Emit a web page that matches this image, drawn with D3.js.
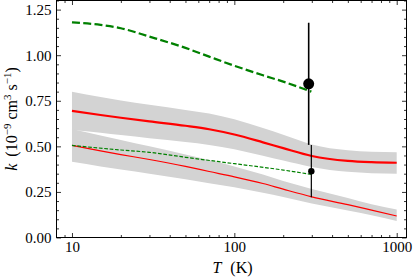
<!DOCTYPE html>
<html>
<head>
<meta charset="utf-8">
<script src="https://cdn.jsdelivr.net/npm/d3@7"></script>
<style>
  body { margin: 0; background: #fff; }
  svg { display: block; }
  text { font-family: "Liberation Serif", "DejaVu Serif", serif; fill: #000; }
</style>
</head>
<body>
<svg id="chart"></svg>
<script>
// temperature grid of the model curves (K)
const tempModel = [10, 15, 20, 30, 50, 70, 100, 150, 200, 300, 500, 700, 1000];
// thick red: total rate coefficient and its grey band
const kTotal   = [0.695, 0.672, 0.657, 0.637, 0.613, 0.594, 0.565, 0.522, 0.490, 0.447, 0.420, 0.413, 0.410];
const kTotalHi = [0.800, 0.770, 0.752, 0.728, 0.700, 0.680, 0.648, 0.600, 0.563, 0.510, 0.478, 0.470, 0.467];
const kTotalLo = [0.590, 0.575, 0.562, 0.545, 0.524, 0.508, 0.484, 0.448, 0.422, 0.387, 0.360, 0.353, 0.350];
// thin red: partial channel and its grey band
const kPart    = [0.505, 0.475, 0.455, 0.428, 0.390, 0.362, 0.333, 0.296, 0.265, 0.223, 0.180, 0.150, 0.118];
const kPartHi  = [0.595, 0.560, 0.535, 0.500, 0.455, 0.425, 0.390, 0.345, 0.310, 0.266, 0.216, 0.182, 0.153];
const kPartLo  = [0.415, 0.390, 0.373, 0.350, 0.320, 0.298, 0.276, 0.245, 0.222, 0.186, 0.148, 0.122, 0.091];

// green dashed curves
const tempGreen      = [10, 15, 20, 30, 50, 70, 100, 150, 200, 298];
const kGreenTotal    = [1.180, 1.166, 1.148, 1.102, 1.040, 0.992, 0.942, 0.890, 0.855, 0.800];
const tempGreenThin  = [10, 20, 30, 50, 100, 200, 298];
const kGreenPart     = [0.505, 0.480, 0.467, 0.440, 0.405, 0.370, 0.346];

// measurements
const expTemp = [287, 298];
const expK    = [0.843, 0.364];
const expErr  = [0.335, 0.143];

// ticks
const yMajor = [0, 0.25, 0.5, 0.75, 1.0, 1.25];
const xMajor = [10, 100, 1000];

const WIDTH = 415;
const HEIGHT = 277;
const LEFT = 56.5, RIGHT = 406.5, TOP = 0.5, BOTTOM = 237.5;

const svg = d3.select("#chart").attr("width", WIDTH).attr("height", HEIGHT);

const x = d3.scaleLog().domain([8.03, 1149]).range([LEFT, RIGHT]);
const y = d3.scaleLinear().domain([0, 1.3]).range([BOTTOM, TOP]);

const zip = (ts, ks) => ts.map((t, i) => ({ t: t, k: ks[i] }));

const line = d3.line().x(d => x(d.t)).y(d => y(d.k)).curve(d3.curveMonotoneX);
const band = d3.area()
  .x(d => x(d.t))
  .y0(d => y(d.lo))
  .y1(d => y(d.hi))
  .curve(d3.curveMonotoneX);

const plot = svg.append("g");

// grey bands
[[kTotalHi, kTotalLo], [kPartHi, kPartLo]].forEach(([hi, lo]) => {
  plot.append("path")
    .datum(tempModel.map((t, i) => ({ t: t, hi: hi[i], lo: lo[i] })))
    .attr("d", band)
    .attr("fill", "#d3d3d3");
});

// red model curves
plot.append("path").datum(zip(tempModel, kTotal)).attr("d", line)
  .attr("fill", "none").attr("stroke", "#ff0000").attr("stroke-width", 2.2);
plot.append("path").datum(zip(tempModel, kPart)).attr("d", line)
  .attr("fill", "none").attr("stroke", "#ff0000").attr("stroke-width", 1.2);

// green dashed curves
plot.append("path").datum(zip(tempGreen, kGreenTotal)).attr("d", line)
  .attr("fill", "none").attr("stroke", "#008000").attr("stroke-width", 2.2)
  .attr("stroke-dasharray", "8,3.3");
plot.append("path").datum(zip(tempGreenThin, kGreenPart)).attr("d", line)
  .attr("fill", "none").attr("stroke", "#008000").attr("stroke-width", 1.2)
  .attr("stroke-dasharray", "3.7,1.7");

// error bars and points
const expData = expTemp.map((t, i) => ({ t: t, k: expK[i], e: expErr[i] }));
const barWidths = [1.6, 1.2];
const dotRadius = [5.5, 3.2];
plot.selectAll("line.err").data(expData).enter().append("line")
  .attr("class", "err")
  .attr("x1", d => x(d.t)).attr("x2", d => x(d.t))
  .attr("y1", d => y(d.k + d.e)).attr("y2", d => y(d.k - d.e))
  .attr("stroke", "#000")
  .attr("stroke-width", (d, i) => barWidths[i]);
plot.selectAll("circle").data(expData).enter().append("circle")
  .attr("cx", d => x(d.t)).attr("cy", d => y(d.k))
  .attr("r", (d, i) => dotRadius[i])
  .attr("fill", "#000");

// axes, ticks pointing inward on all four sides
const xMinor = [9, 20, 30, 40, 50, 60, 70, 80, 90, 200, 300, 400, 500, 600, 700, 800, 900];
const yMinor = d3.range(0, 131, 5).map(v => v / 100).filter(v => !yMajor.some(m => Math.abs(m - v) < 1e-9));

function styleAxis(g) {
  g.select(".domain").remove();
  g.selectAll("line").attr("stroke", "#000").attr("stroke-width", 0.8);
  g.selectAll("text").style("font-size", "15px").attr("fill", "#000");
}

svg.append("g").attr("transform", `translate(0,${BOTTOM})`)
  .call(d3.axisBottom(x).tickValues(xMajor).tickFormat(d3.format("d")).tickSizeInner(-4.5).tickSizeOuter(0).tickPadding(4))
  .call(styleAxis);
svg.append("g").attr("transform", `translate(0,${BOTTOM})`)
  .call(d3.axisBottom(x).tickValues(xMinor).tickFormat("").tickSizeInner(-2.5).tickSizeOuter(0))
  .call(styleAxis);
svg.append("g").attr("transform", `translate(0,${TOP})`)
  .call(d3.axisTop(x).tickValues(xMajor).tickFormat("").tickSizeInner(-4.5).tickSizeOuter(0))
  .call(styleAxis);
svg.append("g").attr("transform", `translate(0,${TOP})`)
  .call(d3.axisTop(x).tickValues(xMinor).tickFormat("").tickSizeInner(-2.5).tickSizeOuter(0))
  .call(styleAxis);

svg.append("g").attr("transform", `translate(${LEFT},0)`)
  .call(d3.axisLeft(y).tickValues(yMajor).tickFormat(d3.format(".2f")).tickSizeInner(-4.5).tickSizeOuter(0).tickPadding(5))
  .call(styleAxis);
svg.append("g").attr("transform", `translate(${LEFT},0)`)
  .call(d3.axisLeft(y).tickValues(yMinor).tickFormat("").tickSizeInner(-2.5).tickSizeOuter(0))
  .call(styleAxis);
svg.append("g").attr("transform", `translate(${RIGHT},0)`)
  .call(d3.axisRight(y).tickValues(yMajor).tickFormat("").tickSizeInner(-4.5).tickSizeOuter(0))
  .call(styleAxis);
svg.append("g").attr("transform", `translate(${RIGHT},0)`)
  .call(d3.axisRight(y).tickValues(yMinor).tickFormat("").tickSizeInner(-2.5).tickSizeOuter(0))
  .call(styleAxis);

// frame
svg.append("rect")
  .attr("x", LEFT).attr("y", TOP)
  .attr("width", RIGHT - LEFT).attr("height", BOTTOM - TOP)
  .attr("fill", "none").attr("stroke", "#000").attr("stroke-width", 1);

// axis labels
const xLabel = svg.append("text")
  .attr("x", (LEFT + RIGHT) / 2 + 1).attr("y", 272.5)
  .attr("text-anchor", "middle").style("font-size", "16px");
xLabel.append("tspan").style("font-style", "italic").text("T");
xLabel.append("tspan").attr("dx", 9).text("(K)");

const yLabel = svg.append("text")
  .attr("transform", `translate(17,${(TOP + BOTTOM) / 2}) rotate(-90)`)
  .attr("text-anchor", "middle").style("font-size", "16px");
yLabel.append("tspan").style("font-style", "italic").text("k");
yLabel.append("tspan").attr("dx", 7).text("(10");
yLabel.append("tspan").attr("dy", -6).style("font-size", "11px").text("\u22129");
yLabel.append("tspan").attr("dy", 6).attr("dx", 4).text("cm");
yLabel.append("tspan").attr("dy", -6).style("font-size", "11px").text("3");
yLabel.append("tspan").attr("dy", 6).attr("dx", 4).text("s");
yLabel.append("tspan").attr("dy", -6).style("font-size", "11px").text("\u22121");
yLabel.append("tspan").attr("dy", 6).text(")");
</script>
</body>
</html>
